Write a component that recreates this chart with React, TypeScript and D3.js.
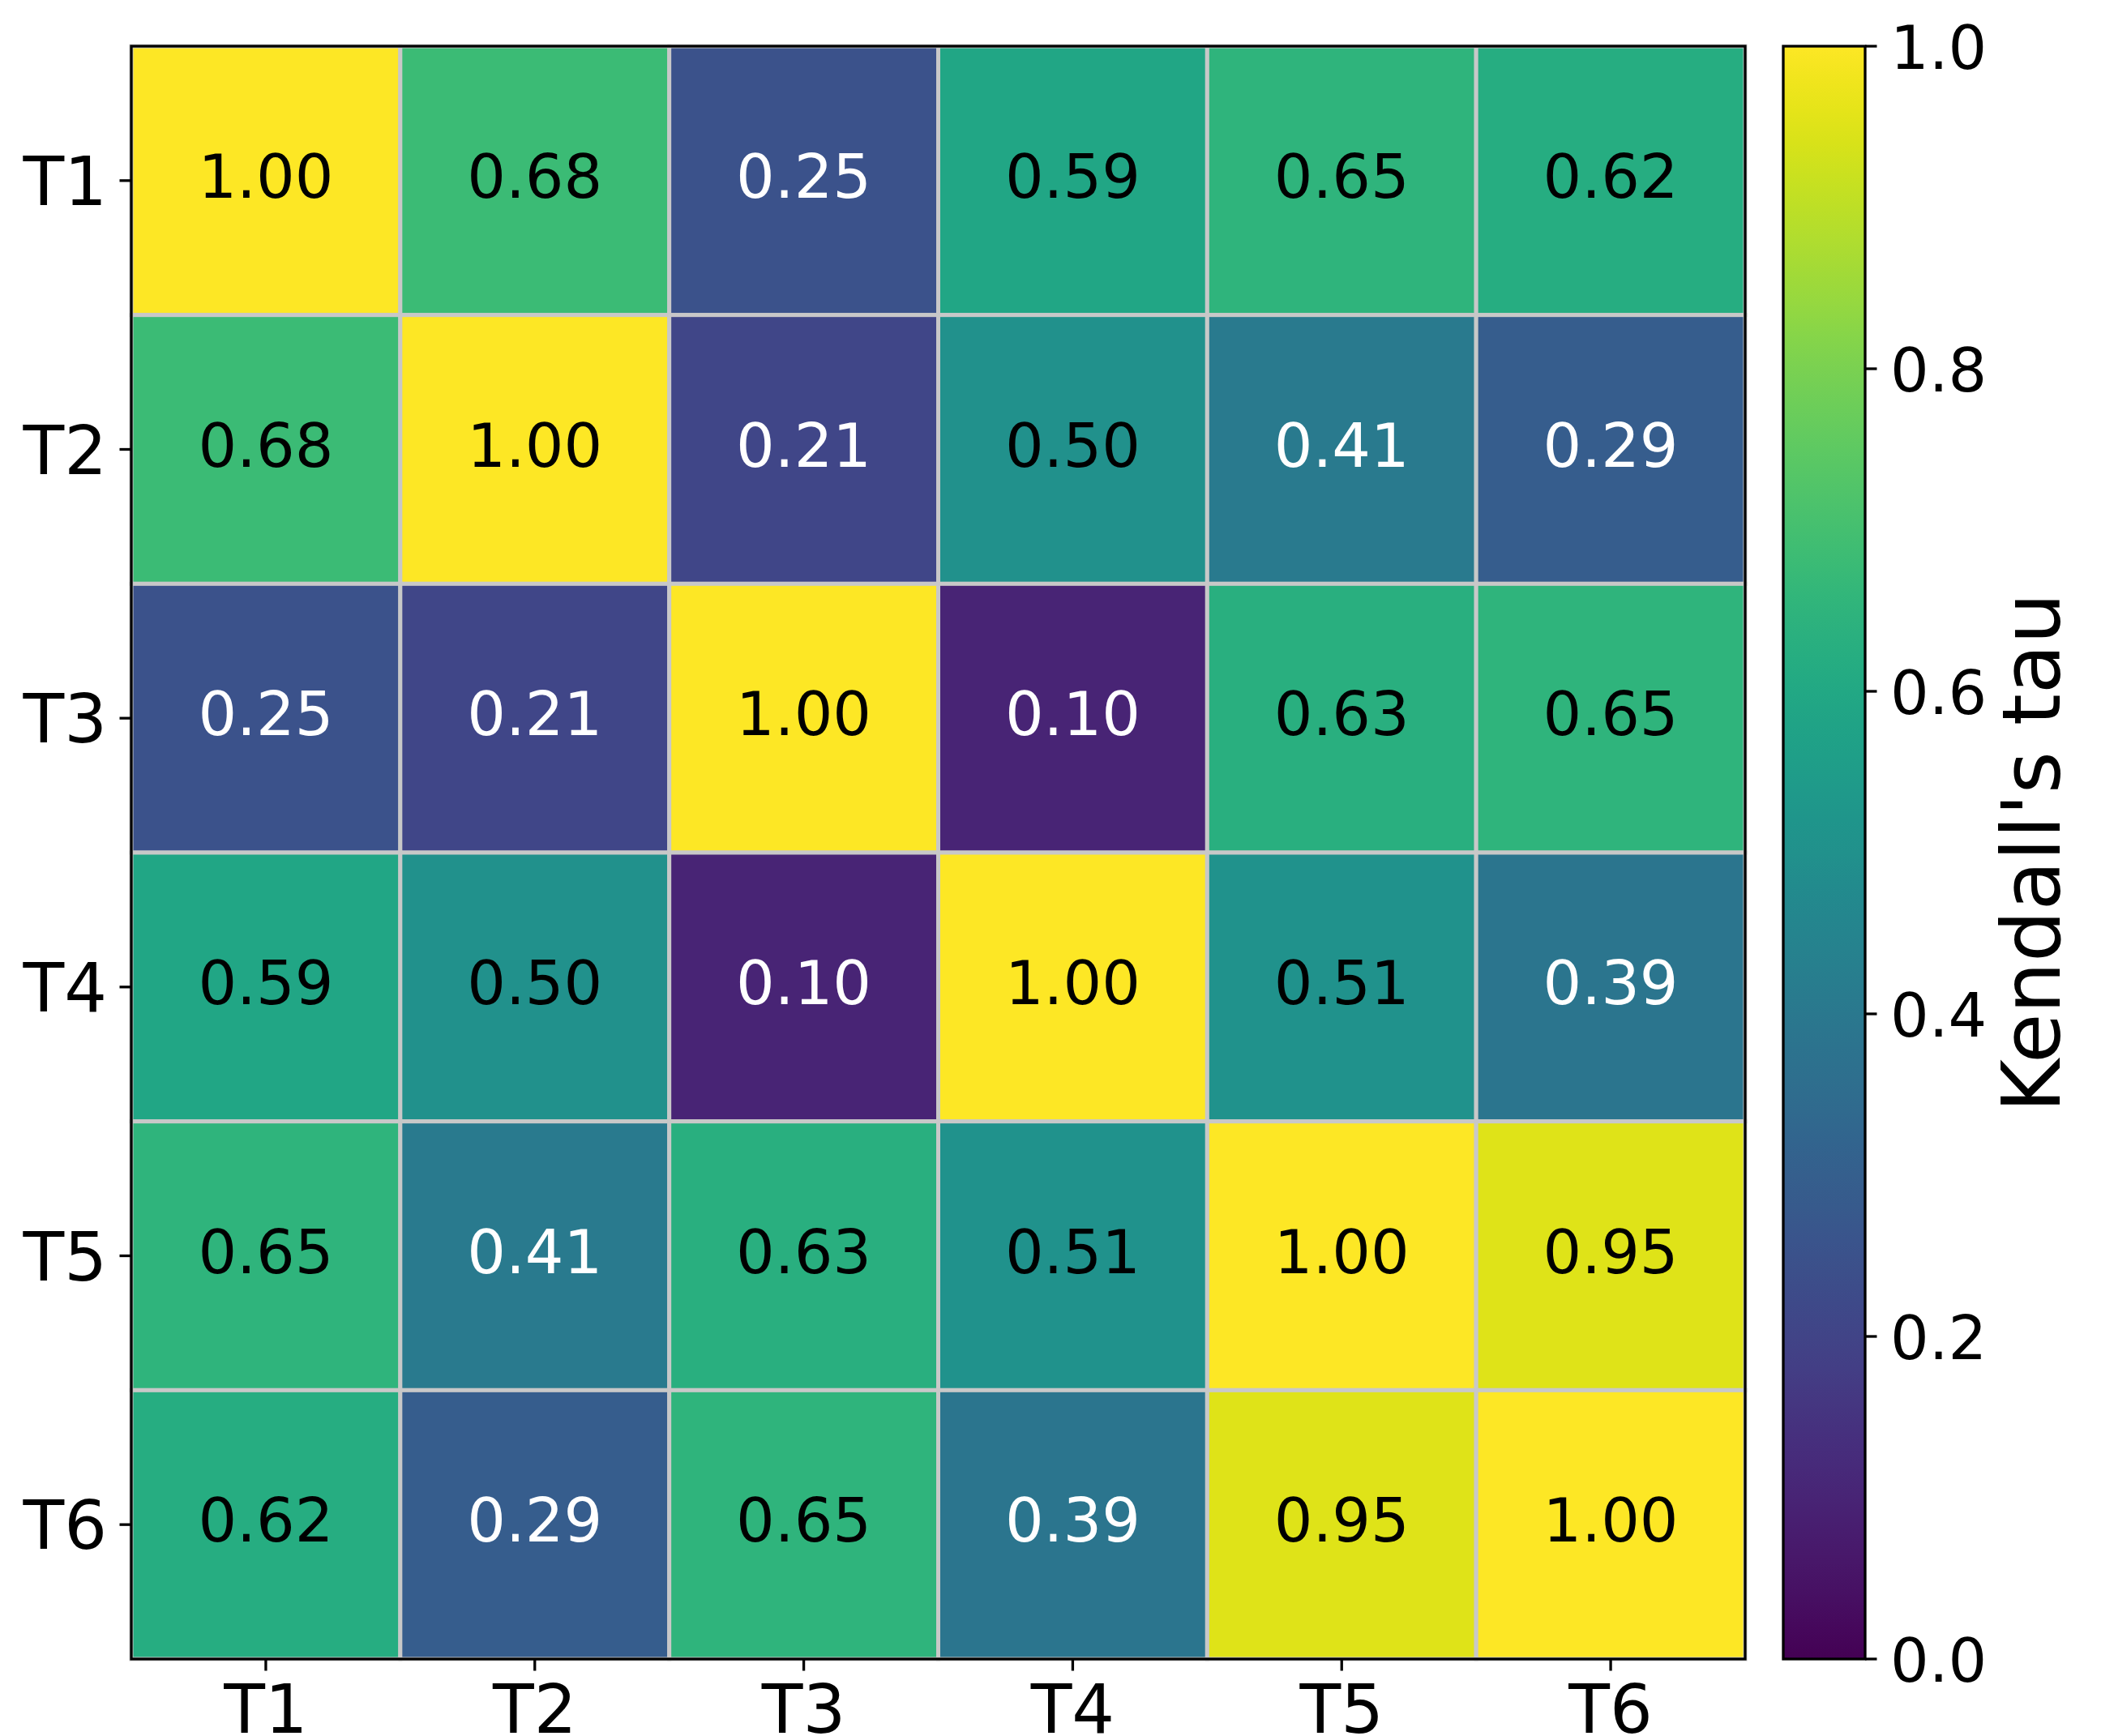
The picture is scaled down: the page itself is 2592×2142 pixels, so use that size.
import * as d3 from 'd3';

// Kendall's tau between the six targets (symmetric, unit diagonal)
const labels = ['T1', 'T2', 'T3', 'T4', 'T5', 'T6'];
const tau: number[][] = [
  [1.0, 0.68, 0.25, 0.59, 0.65, 0.62],
  [0.68, 1.0, 0.21, 0.5, 0.41, 0.29],
  [0.25, 0.21, 1.0, 0.1, 0.63, 0.65],
  [0.59, 0.5, 0.1, 1.0, 0.51, 0.39],
  [0.65, 0.41, 0.63, 0.51, 1.0, 0.95],
  [0.62, 0.29, 0.65, 0.39, 0.95, 1.0],
];
const colorbarTicks = [0, 0.2, 0.4, 0.6, 0.8, 1.0];
const colorbarTitle = "Kendall's tau";

const W = 2592;
const H = 2142;
const FONT = '"DejaVu Sans", Verdana, sans-serif';

const plot = { left: 162, right: 2153, top: 57, bottom: 2047 };
const bar = { left: 2200, right: 2301 };

export default function App() {
  const x = d3.scaleBand<string>().domain(labels).range([plot.left, plot.right]);
  const y = d3.scaleBand<string>().domain(labels).range([plot.top, plot.bottom]);
  const color = d3.scaleSequential(d3.interpolateViridis).domain([0, 1]);
  const cb = d3.scaleLinear().domain([0, 1]).range([plot.bottom, plot.top]);

  const cells = tau.flatMap((row, i) =>
    row.map((v, j) => ({ row: labels[i], col: labels[j], v }))
  );
  const stops = d3.range(0, 1.0001, 0.02);
  const bw = x.bandwidth();
  const bh = y.bandwidth();

  return (
    <div style={{ position: 'absolute', left: 0, top: 0 }}>
      <svg width={W} height={H} style={{ display: 'block', background: '#fff' }} fontFamily={FONT}>
        <defs>
          <linearGradient id="viridis-bar" x1="0" y1="1" x2="0" y2="0">
            {stops.map((t) => (
              <stop key={t} offset={t} stopColor={color(t)} />
            ))}
          </linearGradient>
        </defs>

        {/* heatmap cells */}
        {cells.map((c) => (
          <rect
            key={c.row + c.col}
            x={x(c.col)}
            y={y(c.row)}
            width={bw}
            height={bh}
            fill={color(c.v)}
            stroke="#c8c8c8"
            strokeWidth={5}
          />
        ))}

        {/* cell annotations */}
        {cells.map((c) => (
          <text
            key={'t' + c.row + c.col}
            x={x(c.col)! + bw / 2}
            y={y(c.row)! + bh / 2 + 21}
            textAnchor="middle"
            fontSize={75}
            fill={c.v < 0.5 ? '#ffffff' : '#000000'}
          >
            {c.v.toFixed(2)}
          </text>
        ))}

        {/* frame */}
        <rect
          x={plot.left}
          y={plot.top}
          width={plot.right - plot.left}
          height={plot.bottom - plot.top}
          fill="none"
          stroke="#000"
          strokeWidth={3.3}
        />

        {/* y axis */}
        {labels.map((l) => {
          const cy = y(l)! + bh / 2;
          return (
            <g key={'y' + l}>
              <line x1={plot.left - 14.5} x2={plot.left} y1={cy} y2={cy} stroke="#000" strokeWidth={3.3} />
              <text x={plot.left - 30} y={cy + 30} textAnchor="end" fontSize={83} fill="#000">
                {l}
              </text>
            </g>
          );
        })}

        {/* x axis */}
        {labels.map((l) => {
          const cx = x(l)! + bw / 2;
          return (
            <g key={'x' + l}>
              <line x1={cx} x2={cx} y1={plot.bottom} y2={plot.bottom + 14.5} stroke="#000" strokeWidth={3.3} />
              <text x={cx} y={plot.bottom + 91} textAnchor="middle" fontSize={83} fill="#000">
                {l}
              </text>
            </g>
          );
        })}

        {/* colorbar */}
        <rect
          x={bar.left}
          y={plot.top}
          width={bar.right - bar.left}
          height={plot.bottom - plot.top}
          fill="url(#viridis-bar)"
          stroke="#000"
          strokeWidth={3.3}
        />
        {colorbarTicks.map((t) => (
          <g key={'c' + t}>
            <line x1={bar.right} x2={bar.right + 14.5} y1={cb(t)} y2={cb(t)} stroke="#000" strokeWidth={3.3} />
            <text x={bar.right + 31} y={cb(t) + 28} fontSize={75} fill="#000">
              {t.toFixed(1)}
            </text>
          </g>
        ))}
        <text
          transform={`translate(2541, ${(plot.top + plot.bottom) / 2}) rotate(-90)`}
          textAnchor="middle"
          fontSize={100}
          fill="#000"
        >
          {colorbarTitle}
        </text>
      </svg>
    </div>
  );
}
